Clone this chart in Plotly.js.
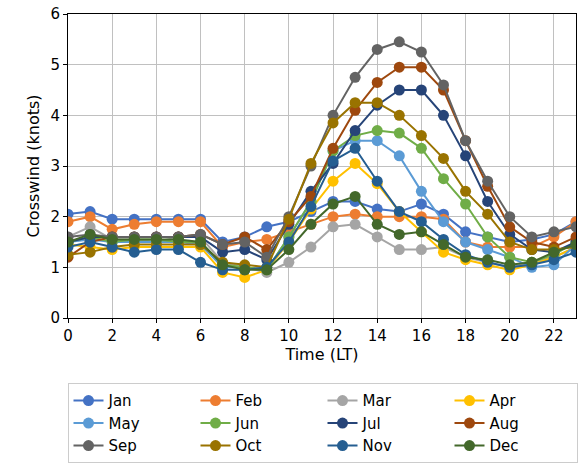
<!DOCTYPE html>
<html>
<head>
<meta charset="utf-8">
<script src="https://cdn.plot.ly/plotly-3.0.1.min.js"></script>
<style>body{margin:0;background:#fff}#chart{width:580px;height:472px}</style>
</head>
<body>
<div id="chart"></div>
<script>
const hours = Array.from({ length: 24 }, (_, i) => i);
const months = ["Jan", "Feb", "Mar", "Apr", "May", "Jun", "Jul", "Aug", "Sep", "Oct", "Nov", "Dec"];
const colors = ["#4472C4", "#ED7D31", "#A5A5A5", "#FFC000", "#5B9BD5", "#70AD47",
  "#264478", "#9E480E", "#636363", "#997300", "#255E91", "#43682B"];

const jan = [2.05,2.1,1.95,1.95,1.95,1.95,1.95,1.5,1.6,1.8,1.9,2.1,2.3,2.3,2.15,2.1,2.25,2.05,1.7,1.6,1.5,1.55,1.65,1.9];
const feb = [1.9,2.0,1.75,1.85,1.9,1.9,1.9,1.4,1.5,1.55,1.7,1.85,2.0,2.05,2.0,2.0,2.0,1.95,1.5,1.4,1.4,1.4,1.6,1.9];
const mar = [1.6,1.8,1.55,1.55,1.5,1.6,1.6,1.1,1.0,0.9,1.1,1.4,1.8,1.85,1.6,1.35,1.35,1.4,1.2,1.1,1.0,1.1,1.2,1.4];
const apr = [1.45,1.4,1.35,1.4,1.4,1.4,1.4,0.9,0.8,0.95,1.5,2.15,2.7,3.05,2.65,2.1,1.7,1.3,1.15,1.05,0.95,1.05,1.2,1.4];
const may = [1.5,1.55,1.5,1.5,1.5,1.5,1.45,1.0,1.0,0.95,1.6,2.3,3.3,3.5,3.5,3.2,2.5,1.9,1.5,1.35,1.2,1.0,1.05,1.45];
const jun = [1.5,1.6,1.5,1.55,1.55,1.5,1.5,1.05,1.0,0.95,1.6,2.3,3.3,3.6,3.7,3.65,3.35,2.75,2.25,1.6,1.2,1.1,1.25,1.5];
const jul = [1.5,1.6,1.6,1.6,1.6,1.6,1.6,1.3,1.35,1.15,1.85,2.5,3.05,3.7,4.2,4.5,4.5,4.0,3.2,2.3,1.65,1.35,1.3,1.5];
const aug = [1.2,1.5,1.6,1.6,1.6,1.6,1.65,1.45,1.6,1.35,1.9,2.4,3.35,4.1,4.65,4.95,4.95,4.5,3.5,2.6,1.8,1.5,1.4,1.6];
const sep = [1.6,1.65,1.6,1.6,1.6,1.6,1.65,1.45,1.5,1.2,2.0,3.0,4.0,4.75,5.3,5.45,5.25,4.6,3.5,2.7,2.0,1.6,1.7,1.8];
const oct = [1.25,1.3,1.4,1.45,1.45,1.45,1.45,1.1,1.05,1.0,1.95,3.05,3.85,4.25,4.25,4.0,3.6,3.15,2.5,2.05,1.5,1.35,1.35,1.4];
const nov = [1.4,1.5,1.4,1.3,1.35,1.35,1.1,0.95,0.95,1.0,1.5,2.2,3.1,3.35,2.7,2.1,1.9,1.55,1.25,1.1,1.0,1.05,1.15,1.3];
const dec = [1.5,1.65,1.55,1.55,1.55,1.55,1.5,1.05,0.95,0.95,1.35,1.85,2.25,2.4,1.85,1.65,1.7,1.45,1.2,1.15,1.05,1.1,1.3,1.45];
const series = [jan, feb, mar, apr, may, jun, jul, aug, sep, oct, nov, dec];

const traces = series.map((y, i) => ({
  type: "scatter",
  mode: "lines+markers",
  name: months[i],
  x: hours,
  y: y,
  line: { color: colors[i], width: 2 },
  marker: { color: colors[i], size: 11 },
}));

const axisCommon = {
  showline: true, linecolor: "#000", linewidth: 1, mirror: true,
  ticks: "outside", ticklen: 4, tickcolor: "#000",
  gridcolor: "#c0c0c0", gridwidth: 1, zeroline: false,
  tickfont: { size: 15, color: "#000" },
};

const layout = {
  width: 580, height: 472,
  margin: { l: 68, r: 3, t: 14, b: 154 },
  paper_bgcolor: "#fff", plot_bgcolor: "#fff",
  font: { family: "DejaVu Sans", color: "#000" },
  xaxis: Object.assign({}, axisCommon, {
    range: [0, 23], dtick: 2, tick0: 0,
    title: { text: "Time (LT)", font: { size: 16 }, standoff: 2 },
  }),
  yaxis: Object.assign({}, axisCommon, {
    range: [0, 6], dtick: 1,
    title: { text: "Crosswind (knots)", font: { size: 16 }, standoff: 6 },
  }),
  legend: {
    orientation: "h", x: 0.5, xanchor: "center", y: -0.215, yanchor: "top",
    entrywidth: 82, bordercolor: "#ccc", borderwidth: 1,
    font: { size: 15 }, tracegroupgap: 0,
  },
};

Plotly.newPlot("chart", traces, layout, { displayModeBar: false });
</script>
</body>
</html>
